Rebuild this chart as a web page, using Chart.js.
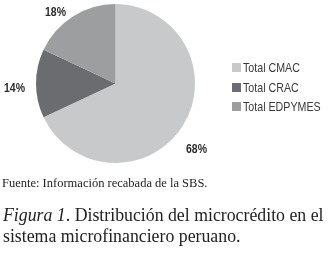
<!DOCTYPE html>
<html>
<head>
<meta charset="utf-8">
<script src="https://cdn.jsdelivr.net/npm/chart.js@4"></script>
<style>
    body { margin: 0; background: #fff; }
    #wrap { position: relative; width: 330px; height: 254px; overflow: hidden; }
    #pieChart { position: absolute; left: 0; top: 0; }
    #legend { position: absolute; left: 232px; top: 58px; font: 13px "Liberation Sans", Arial, sans-serif; color: #3a3a3a; white-space: nowrap; }
    .row { display: flex; align-items: center; height: 19.5px; }
    .box { width: 9px; height: 9px; margin-right: 2px; flex: none; }
    .txt { display: inline-block; transform: scaleX(0.82); transform-origin: left center; }
    .src { position: absolute; left: 2px; top: 176px; font: 12.5px "Liberation Serif", "Times New Roman", serif; color: #222; white-space: nowrap; }
    .fig { position: absolute; left: 3px; top: 205px; font: 17.8px/21px "Liberation Serif", "Times New Roman", serif; color: #222; white-space: nowrap; }
</style>
</head>
<body>
<div id="wrap">
    <canvas id="pieChart" width="330" height="178"></canvas>
    <div id="legend"></div>
    <div class="src">Fuente: Información recabada de la SBS.</div>
    <div class="fig"><i>Figura 1</i>. Distribución del microcrédito en el<br>sistema microfinanciero peruano.</div>
</div>
<script>
const categories = ["Total CMAC", "Total CRAC", "Total EDPYMES"];
const shares = [68, 14, 18];
const sliceColors = ["#c8c9cb", "#6b6c6f", "#9d9ea0"];

// label nudges: angle shift (deg) and gap beyond the rim (px)
const labelShift = [6.8, -2.8, -7.8];
const labelGap = [25, 21.6, 13.5];

const pieCtx = document.getElementById("pieChart").getContext("2d");

const outsideLabels = {
    id: "outsideLabels",
    afterDatasetsDraw(chart) {
        const ctx = chart.ctx;
        const meta = chart.getDatasetMeta(0);
        ctx.save();
        ctx.font = "bold 12.5px 'Liberation Sans', Arial, sans-serif";
        ctx.fillStyle = "#2b2b2b";
        ctx.textAlign = "center";
        ctx.textBaseline = "middle";
        meta.data.forEach((arc, i) => {
            const p = arc.getProps(["x", "y", "startAngle", "endAngle", "outerRadius"], true);
            const a = (p.startAngle + p.endAngle) / 2 + labelShift[i] * Math.PI / 180;
            const d = p.outerRadius + labelGap[i];
            // narrow look of the original labels
            ctx.fillText(shares[i] + "%", p.x + Math.cos(a) * d, p.y + Math.sin(a) * d, 21);
        });
        ctx.restore();
    }
};

const showPieChart = () => {
    new Chart(pieCtx, {
        type: "pie",
        data: {
            labels: categories,
            datasets: [
                {
                    data: shares,
                    backgroundColor: sliceColors,
                    borderWidth: 0,
                },
            ],
        },
        options: {
            responsive: false,
            animation: false,
            layout: {
                padding: { left: 36, top: 4, right: 135, bottom: 15 },
            },
            plugins: {
                legend: { display: false },
                tooltip: { enabled: false },
            },
        },
        plugins: [outsideLabels],
    });
}

const showLegend = () => {
    const legend = document.getElementById("legend");
    categories.forEach((name, i) => {
        const row = document.createElement("div");
        row.className = "row";
        const box = document.createElement("span");
        box.className = "box";
        box.style.background = sliceColors[i];
        const txt = document.createElement("span");
        txt.className = "txt";
        txt.textContent = name;
        row.appendChild(box);
        row.appendChild(txt);
        legend.appendChild(row);
    });
}

document.addEventListener("DOMContentLoaded", () => {
    showPieChart();
    showLegend();
})
</script>
</body>
</html>
